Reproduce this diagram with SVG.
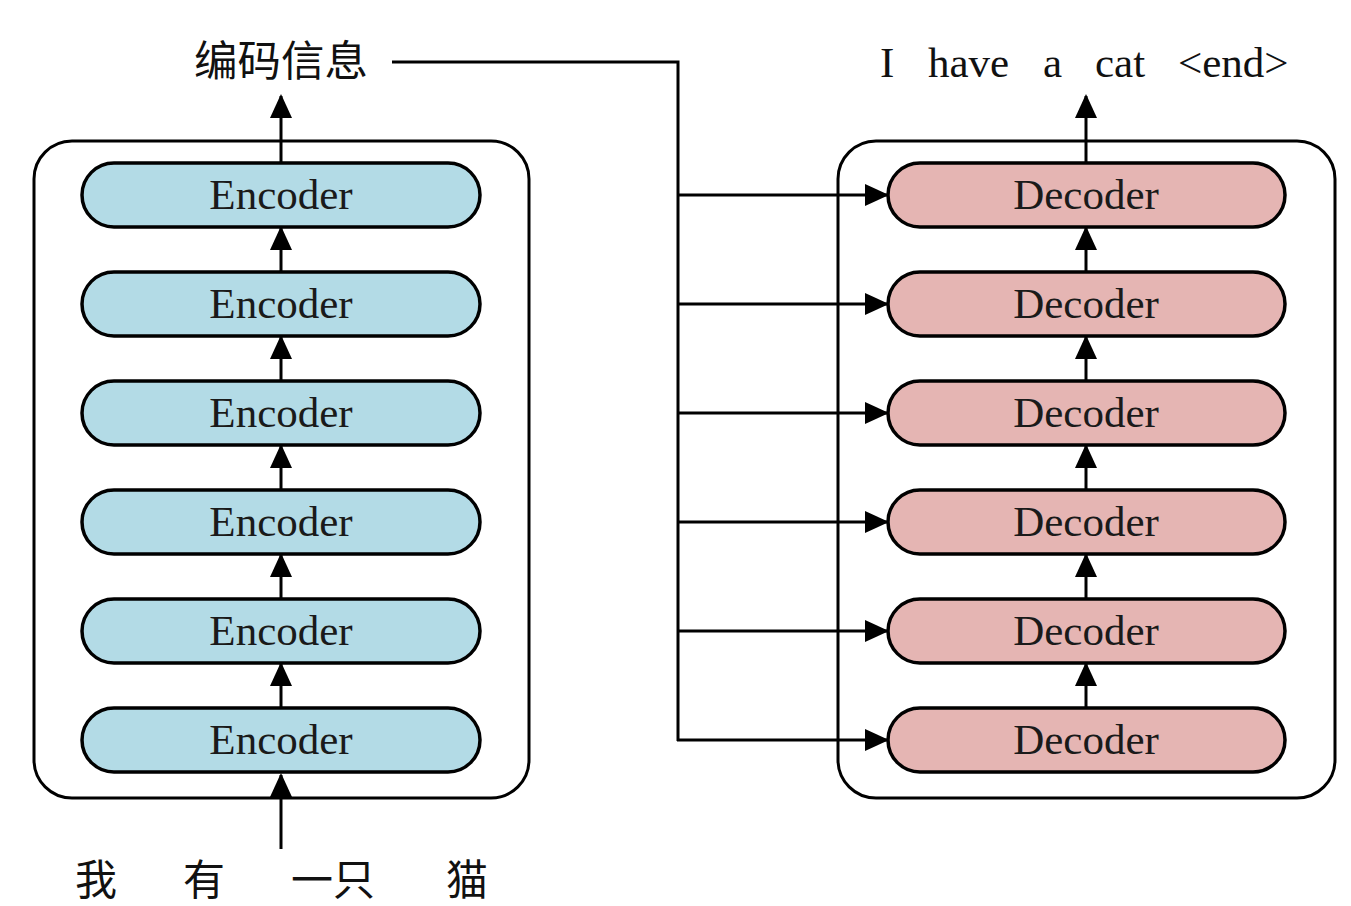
<svg xmlns="http://www.w3.org/2000/svg" width="1351" height="906" viewBox="0 0 1351 906">
<defs>
<marker id="ah" markerUnits="userSpaceOnUse" markerWidth="24" markerHeight="22" refX="22" refY="11" orient="auto">
<path d="M0,0 L24,11 L0,22 Z" fill="#000"/>
</marker>
<style>
.outer{fill:none;stroke:#000;stroke-width:3}
.enc{fill:#b3dbe6;stroke:#000;stroke-width:3.5}
.dec{fill:#e5b5b3;stroke:#000;stroke-width:3.5}
.lbl{font-family:"Liberation Serif",serif;font-size:43px;text-anchor:middle;fill:#1a1a1a}
.cjk{font-family:"Noto Sans CJK SC",sans-serif;font-size:42px;fill:#111}
.out{font-family:"Liberation Serif",serif;font-size:43px;fill:#111}
.ln{fill:none;stroke:#000;stroke-width:3}
</style>
</defs>
<rect width="1351" height="906" fill="#fff"/>
<g id="encoder-stack">
<rect class="outer" x="34" y="141" width="495" height="657" rx="38"/>
</g>
<g id="decoder-stack">
<rect class="outer" x="838" y="141" width="497" height="657" rx="38"/>
</g>
<g id="enc1"><rect class="enc" x="82" y="163" width="398" height="64" rx="32"/><text class="lbl" x="281" y="209">Encoder</text></g>
<g id="enc2"><rect class="enc" x="82" y="272" width="398" height="64" rx="32"/><text class="lbl" x="281" y="318">Encoder</text></g>
<g id="enc3"><rect class="enc" x="82" y="381" width="398" height="64" rx="32"/><text class="lbl" x="281" y="427">Encoder</text></g>
<g id="enc4"><rect class="enc" x="82" y="490" width="398" height="64" rx="32"/><text class="lbl" x="281" y="536">Encoder</text></g>
<g id="enc5"><rect class="enc" x="82" y="599" width="398" height="64" rx="32"/><text class="lbl" x="281" y="645">Encoder</text></g>
<g id="enc6"><rect class="enc" x="82" y="708" width="398" height="64" rx="32"/><text class="lbl" x="281" y="754">Encoder</text></g>
<g id="dec1"><rect class="dec" x="888" y="163" width="397" height="64" rx="32"/><text class="lbl" x="1086" y="209">Decoder</text></g>
<g id="dec2"><rect class="dec" x="888" y="272" width="397" height="64" rx="32"/><text class="lbl" x="1086" y="318">Decoder</text></g>
<g id="dec3"><rect class="dec" x="888" y="381" width="397" height="64" rx="32"/><text class="lbl" x="1086" y="427">Decoder</text></g>
<g id="dec4"><rect class="dec" x="888" y="490" width="397" height="64" rx="32"/><text class="lbl" x="1086" y="536">Decoder</text></g>
<g id="dec5"><rect class="dec" x="888" y="599" width="397" height="64" rx="32"/><text class="lbl" x="1086" y="645">Decoder</text></g>
<g id="dec6"><rect class="dec" x="888" y="708" width="397" height="64" rx="32"/><text class="lbl" x="1086" y="754">Decoder</text></g>
<g id="enc-info"><text class="cjk" x="194" y="76" textLength="174" lengthAdjust="spacingAndGlyphs">编码信息</text></g>
<g id="input"><text class="cjk" x="75" y="895">我</text><text class="cjk" x="183" y="895">有</text><text class="cjk" x="291" y="895">一只</text><text class="cjk" x="446" y="895">猫</text></g>
<g id="output"><text class="out" x="880" y="77">I</text><text class="out" x="928" y="77">have</text><text class="out" x="1043" y="77">a</text><text class="out" x="1095" y="77">cat</text><text class="out" x="1178" y="77">&lt;end&gt;</text></g>
<g id="connectors">
<line class="ln" x1="281" y1="849" x2="281" y2="775" marker-end="url(#ah)"/>
<line class="ln" x1="281" y1="708" x2="281" y2="664" marker-end="url(#ah)"/>
<line class="ln" x1="281" y1="599" x2="281" y2="555" marker-end="url(#ah)"/>
<line class="ln" x1="281" y1="490" x2="281" y2="446" marker-end="url(#ah)"/>
<line class="ln" x1="281" y1="381" x2="281" y2="337" marker-end="url(#ah)"/>
<line class="ln" x1="281" y1="272" x2="281" y2="228" marker-end="url(#ah)"/>
<line class="ln" x1="281" y1="163" x2="281" y2="96" marker-end="url(#ah)"/>
<line class="ln" x1="1086" y1="708" x2="1086" y2="664" marker-end="url(#ah)"/>
<line class="ln" x1="1086" y1="599" x2="1086" y2="555" marker-end="url(#ah)"/>
<line class="ln" x1="1086" y1="490" x2="1086" y2="446" marker-end="url(#ah)"/>
<line class="ln" x1="1086" y1="381" x2="1086" y2="337" marker-end="url(#ah)"/>
<line class="ln" x1="1086" y1="272" x2="1086" y2="228" marker-end="url(#ah)"/>
<line class="ln" x1="1086" y1="163" x2="1086" y2="96" marker-end="url(#ah)"/>
<path class="ln" d="M392,62 H678 V741"/>
<line class="ln" x1="678" y1="195" x2="887" y2="195" marker-end="url(#ah)"/>
<line class="ln" x1="678" y1="304" x2="887" y2="304" marker-end="url(#ah)"/>
<line class="ln" x1="678" y1="413" x2="887" y2="413" marker-end="url(#ah)"/>
<line class="ln" x1="678" y1="522" x2="887" y2="522" marker-end="url(#ah)"/>
<line class="ln" x1="678" y1="631" x2="887" y2="631" marker-end="url(#ah)"/>
<line class="ln" x1="677" y1="740" x2="887" y2="740" marker-end="url(#ah)"/>
</g>
</svg>
